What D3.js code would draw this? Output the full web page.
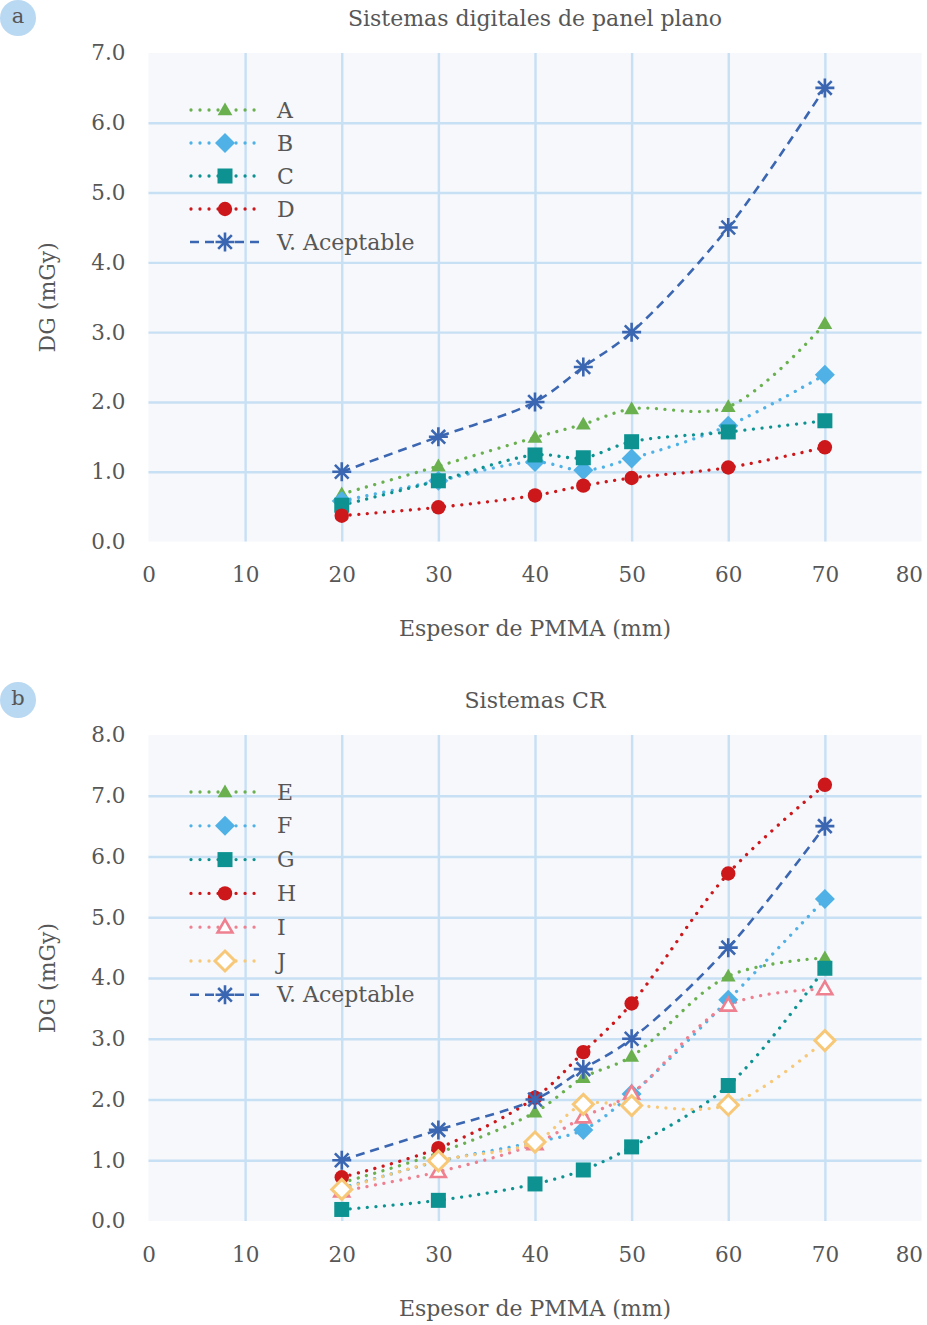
<!DOCTYPE html>
<html><head><meta charset="utf-8">
<script src="https://cdn.jsdelivr.net/npm/d3@7"></script>
<style>
html,body{margin:0;padding:0;background:#fff;}
svg text{font-family:"DejaVu Serif",serif;fill:#575757;}
</style></head>
<body><svg id="c" width="927" height="1325"></svg>
<script>
// ---------- DATA ----------
const thickness = [20, 30, 40, 45, 50, 60, 70];
const xTicks = [0, 10, 20, 30, 40, 50, 60, 70, 80];
const yTicksA = [0, 1, 2, 3, 4, 5, 6, 7];
const yTicksB = [0, 1, 2, 3, 4, 5, 6, 7, 8];

const seriesNamesA = ["A", "B", "C", "D", "V. Aceptable"];
const valA = [0.68, 1.08, 1.49, 1.68, 1.90, 1.93, 3.12];
const valB = [0.58, 0.87, 1.14, 1.02, 1.19, 1.66, 2.39];
const valC = [0.52, 0.87, 1.24, 1.20, 1.43, 1.57, 1.73];
const valD = [0.37, 0.49, 0.66, 0.80, 0.91, 1.06, 1.35];
const valAceptable = [1.0, 1.5, 2.0, 2.5, 3.0, 4.5, 6.5];

const seriesNamesB = ["E", "F", "G", "H", "I", "J", "V. Aceptable"];
const valE = [0.63, 1.12, 1.79, 2.36, 2.71, 4.03, 4.33];
const valF = [0.54, 0.98, 1.30, 1.50, 2.09, 3.64, 5.30];
const valG = [0.19, 0.34, 0.61, 0.84, 1.22, 2.23, 4.16];
const valH = [0.72, 1.20, 2.03, 2.78, 3.58, 5.72, 7.18];
const valI = [0.49, 0.81, 1.27, 1.71, 2.10, 3.55, 3.82];
const valJ = [0.52, 0.99, 1.30, 1.92, 1.90, 1.91, 2.97];

const titleA = "Sistemas digitales de panel plano";
const titleB = "Sistemas CR";
const xTitle = "Espesor de PMMA (mm)";
const yTitle = "DG (mGy)";

// ---------- STYLES ----------
const C = {green:"#6ab04f", blue:"#4fb1e5", teal:"#0d9291", red:"#cc171b", pink:"#ee8090", yellow:"#f7c878", star:"#3b66b1"};
const styleOf = {
  "A":{color:C.green, marker:"tri"}, "B":{color:C.blue, marker:"dia"}, "C":{color:C.teal, marker:"sq"}, "D":{color:C.red, marker:"circ"},
  "E":{color:C.green, marker:"tri"}, "F":{color:C.blue, marker:"dia"}, "G":{color:C.teal, marker:"sq"}, "H":{color:C.red, marker:"circ"},
  "I":{color:C.pink, marker:"otri"}, "J":{color:C.yellow, marker:"odia"},
  "V. Aceptable":{color:C.star, marker:"star", dashed:true}
};
const FS = "21.5px";

const svg = d3.select("#c");

function drawMarker(g, type, color){
  if(type==="tri"){
    g.append("path").attr("d", d3.symbol(d3.symbolTriangle, 95)()).attr("transform","translate(0,1)").attr("fill", color);
  } else if(type==="otri"){
    g.append("path").attr("d", d3.symbol(d3.symbolTriangle, 95)()).attr("transform","translate(0,1)").attr("fill","#fff").attr("stroke",color).attr("stroke-width",2.6);
  } else if(type==="dia"){
    g.append("path").attr("d","M0,-10L10,0L0,10L-10,0Z").attr("fill",color);
  } else if(type==="odia"){
    g.append("path").attr("d","M0,-10L10,0L0,10L-10,0Z").attr("fill","#fff").attr("stroke",color).attr("stroke-width",3);
  } else if(type==="sq"){
    g.append("rect").attr("x",-7.5).attr("y",-7.5).attr("width",15).attr("height",15).attr("fill",color);
  } else if(type==="circ"){
    g.append("circle").attr("r",7.2).attr("fill",color);
  } else if(type==="star"){
    const r=9.5, r2=r*0.72;
    const d = `M0,${-r}L0,${r}M${-r},0L${r},0M${-r2},${-r2}L${r2},${r2}M${-r2},${r2}L${r2},${-r2}`;
    g.append("path").attr("d",d).attr("stroke",color).attr("stroke-width",2.6).attr("fill","none");
  }
}

function panel(opts){
  const {top, bottom, yMax, yTicks, names, values, title, badge, legendY, legendStep} = opts;
  const x = d3.scaleLinear().domain([0,80]).range([148.5, 921.5]);
  const y = d3.scaleLinear().domain([0,yMax]).range([bottom, top]);
  const g = svg.append("g");

  // plot background
  g.append("rect").attr("x",x(0)).attr("y",y(yMax)).attr("width",x(80)-x(0)).attr("height",y(0)-y(yMax)).attr("fill","#f6f8fc");

  // gridlines
  const gridX = d3.axisBottom(x).tickValues(xTicks.slice(1,-1)).tickSize(-(y(0)-y(yMax))).tickFormat("");
  g.append("g").attr("transform",`translate(0,${y(0)})`).call(gridX)
    .call(s=>s.select(".domain").remove())
    .call(s=>s.selectAll("line").attr("stroke","#c8e0f4").attr("stroke-width",2.4));
  const gridY = d3.axisLeft(y).tickValues(yTicks.slice(1,-1)).tickSize(-(x(80)-x(0))).tickFormat("");
  g.append("g").attr("transform",`translate(${x(0)},0)`).call(gridY)
    .call(s=>s.select(".domain").remove())
    .call(s=>s.selectAll("line").attr("stroke","#c8e0f4").attr("stroke-width",2.4));

  // tick labels via axes
  const ax = d3.axisBottom(x).tickValues(xTicks).tickSize(0).tickPadding(0).tickFormat(d3.format("d"));
  g.append("g").attr("transform",`translate(0,${y(0)+33})`).call(ax)
    .call(s=>s.select(".domain").remove())
    .call(s=>s.selectAll("text").attr("dy","0.35em").attr("y",0).style("font-size",FS).style("font-family",'"DejaVu Serif",serif').attr("fill","#575757"))
    .call(s=>s.selectAll(".tick").filter(d=>d===80).select("text").attr("text-anchor","end").attr("x",1));
  const ay = d3.axisLeft(y).tickValues(yTicks).tickSize(0).tickPadding(0).tickFormat(d3.format(".1f"));
  g.append("g").attr("transform",`translate(${x(0)-23},0)`).call(ay)
    .call(s=>s.select(".domain").remove())
    .call(s=>s.selectAll("text").style("font-size",FS).style("font-family",'"DejaVu Serif",serif').attr("fill","#575757"));

  // titles
  g.append("text").attr("x",535).attr("y",top-35).attr("text-anchor","middle").attr("dominant-baseline","central").style("font-size","22px").text(title);
  g.append("text").attr("x",535).attr("y",bottom+87).attr("text-anchor","middle").attr("dominant-baseline","central").style("font-size","22px").text(xTitle);
  g.append("text").attr("transform",`translate(47,${(top+bottom)/2}) rotate(-90)`).attr("text-anchor","middle").attr("dominant-baseline","central").style("font-size","22px").text(yTitle);

  // badge
  g.append("circle").attr("cx",18).attr("cy",top-35).attr("r",18).attr("fill","#b9d8f2");
  g.append("text").attr("x",18).attr("y",top-37).attr("text-anchor","middle").attr("dominant-baseline","central").style("font-size","21px").text(badge);

  // series
  const line = d3.line().x((d,i)=>x(thickness[i])).y(d=>y(d)).curve(d3.curveCatmullRom.alpha(0.5));
  names.forEach((nm,k)=>{
    const st = styleOf[nm];
    g.append("path").datum(values[k]).attr("d",line).attr("fill","none").attr("stroke",st.color)
      .attr("stroke-width", st.dashed?2.6:3.3)
      .attr("stroke-linecap", st.dashed?"butt":"round")
      .attr("stroke-dasharray", st.dashed?"9 6":"0.01 8.6");
  });
  names.forEach((nm,k)=>{
    const st = styleOf[nm];
    values[k].forEach((v,i)=>{
      const mg = g.append("g").attr("transform",`translate(${x(thickness[i])},${y(v)})`);
      drawMarker(mg, st.marker, st.color);
    });
  });

  // legend
  names.forEach((nm,k)=>{
    const st = styleOf[nm];
    const ly = legendY + k*legendStep;
    const lg = g.append("g").attr("transform",`translate(0,${ly})`);
    lg.append("line").attr("x1",st.dashed?190:191).attr("x2",262).attr("y1",0).attr("y2",0)
      .attr("stroke",st.color).attr("stroke-width",st.dashed?2.6:3.3)
      .attr("stroke-linecap",st.dashed?"butt":"round")
      .attr("stroke-dasharray",st.dashed?"9 6":"0.01 9");
    const mg = lg.append("g").attr("transform","translate(225,0)");
    drawMarker(mg, st.marker, st.color);
    lg.append("text").attr("x",277).attr("y",0).attr("dominant-baseline","central").style("font-size","22px").text(nm);
  });
}

panel({top:53, bottom:541.5, yMax:7, yTicks:yTicksA, names:seriesNamesA,
  values:[valA,valB,valC,valD,valAceptable], title:titleA, badge:"a", legendY:110, legendStep:33});
panel({top:735, bottom:1221, yMax:8, yTicks:yTicksB, names:seriesNamesB,
  values:[valE,valF,valG,valH,valI,valJ,valAceptable], title:titleB, badge:"b", legendY:792, legendStep:33.8});
</script></body></html>
